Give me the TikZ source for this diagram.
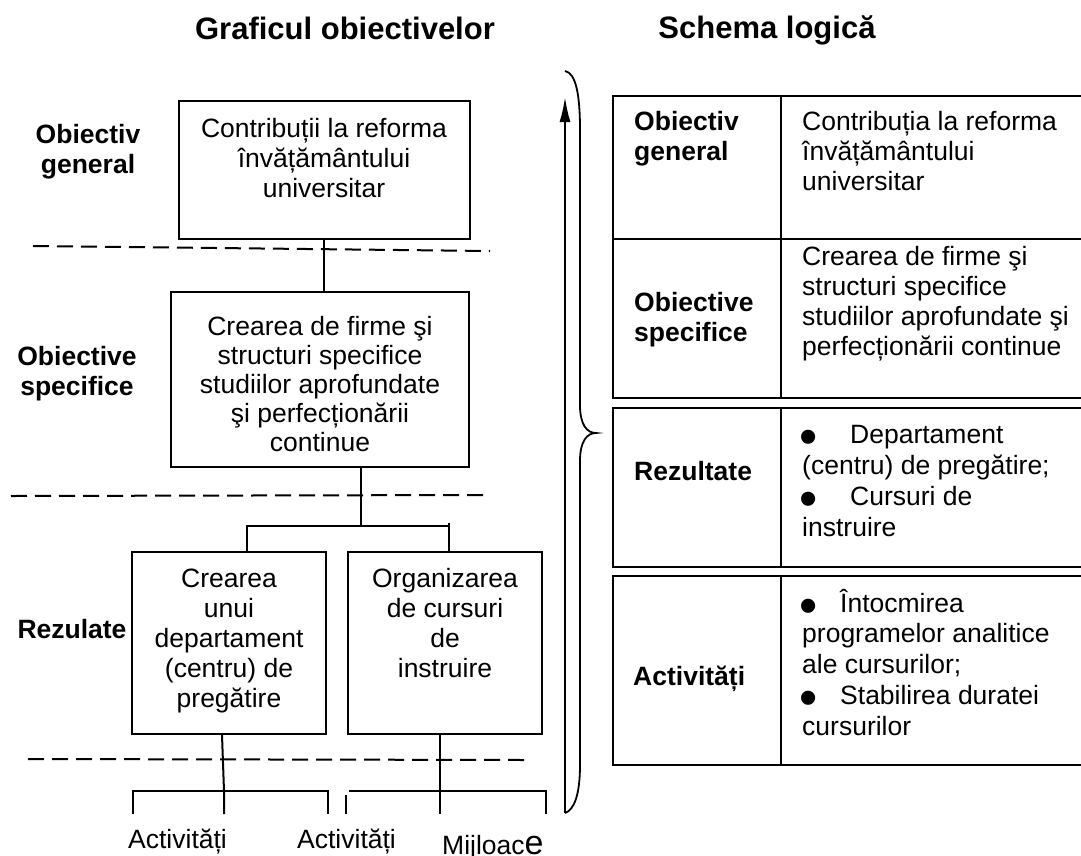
\documentclass[tikz,border=0pt]{standalone}
\usepackage{fontspec}
\setmainfont{Liberation Sans}
\usetikzlibrary{arrows.meta,calc}

\newcommand{\txtfont}{\fontsize{26.5}{30}\selectfont}
\newcommand{\lblfont}{\bfseries\fontsize{26.5}{30}\selectfont}
\newcommand{\ttlfont}{\bfseries\fontsize{31}{36}\selectfont}
% box text: height, width, first baseline, lines
\newcommand{\boxtext}[4]{\parbox[c][#1][t]{#2}{\centering\rule{0pt}{#3}#4}}
\newcommand{\bul}[1]{\makebox[#1][l]{\hspace*{-3pt}\smash{\raisebox{-11pt}{\fontsize{52}{52}\selectfont •}}}}

\begin{document}
\begin{tikzpicture}[
  x=1pt, y=-1pt,
  objbox/.style={draw, line width=2pt, inner sep=0pt, font=\txtfont},
  lvl/.style={anchor=base, inner sep=0pt, font=\lblfont},
  ttl/.style={anchor=base, inner sep=0pt, font=\ttlfont},
  cell/.style={anchor=base west, inner sep=0pt, font=\txtfont},
  cellhead/.style={anchor=base west, inner sep=0pt, font=\lblfont},
  link/.style={line width=2pt},
  sep/.style={line width=2pt, dash pattern=on 16pt off 8pt},
  grid/.style={line width=2.4pt}
]
  \fill[white] (0,0) rectangle (1081,855);
  \path[use as bounding box] (0,0) rectangle (1081,855);
  \clip (0,0) rectangle (1081,855);

  % titles
  \node[ttl] (tGraf) at (345,39) {Graficul obiectivelor};
  \node[ttl] (tSchema) at (767,38) {Schema logică};

  % left: objectives tree
  \node[lvl] (lGen) at (88,143) {\parbox[t]{160pt}{\centering Obiectiv\\general}};
  \node[lvl] (lSpec) at (77,365) {\parbox[t]{160pt}{\centering Obiective\\specifice}};
  \node[lvl] (lRez) at (72,638) {Rezulate};

  \node[objbox] (b1) at (324,170)
    {\boxtext{138pt}{291pt}{36pt}{Contribuții la reforma\\învățământului\\universitar}};
  \node[objbox, font=\fontsize{26.5}{29}\selectfont] (b2) at (320,379.5)
    {\boxtext{175pt}{298pt}{43pt}{Crearea de firme şi\\structuri specifice\\studiilor aprofundate\\şi perfecționării\\continue}};
  \node[objbox] (b3) at (229,643)
    {\boxtext{182pt}{194pt}{35pt}{Crearea\\unui\\departament\\(centru) de\\pregătire}};
  \node[objbox] (b4) at (445,643)
    {\boxtext{182pt}{194pt}{35pt}{Organizarea\\de cursuri\\de\\instruire}};

  % level separators
  \draw[sep] (33,246) -- (490,251);
  \draw[sep] (11,496) -- (485,495);
  \draw[sep] (28,759) -- (527,760);

  % links
  \coordinate (fork) at (361,526);
  \coordinate (forkL) at (247,526);
  \coordinate (forkR) at (449,526);
  \draw[link] (b1.south) -- (b1.south |- b2.north);
  \draw[link] (b2.south -| fork) -- (fork);
  \draw[link] (b3.north -| forkL) -- (forkL) -- (forkR) -- (b4.north -| forkR);
  \draw[link] (forkR) -- ++(0,-3);

  \coordinate (actA) at (224,791);
  \coordinate (lbW) at (133,791);
  \coordinate (lbE) at (328,791);
  \draw[link] ($(b3.south)+(-7,0)$) -- (actA) -- ++(0,23);
  \draw[link] ($(lbW)+(0,23)$) -- (lbW) -- (lbE) -- ++(0,23);

  \coordinate (actB) at (440,791);
  \coordinate (rbW) at (349,791);
  \coordinate (rbE) at (546,791);
  \draw[link] (b4.south -| actB) -- (actB) -- ++(0,23);
  \draw[link] (rbW) -- (rbE) -- ++(0,23);
  \draw[link] ($(rbW)+(-3,4)$) -- ++(0,19);

  \node[cell] (act1) at (128,848) {Activități};
  \node[cell] (act2) at (297,848) {Activități};
  \node[cell] (mij) at (442,854) {Mijloac{\fontsize{34}{34}\selectfont e}};

  % brace and arrow
  \coordinate (arrB) at (565,813);
  \coordinate (arrT) at (565,97);
  \draw[line width=2pt, -{Latex[length=25pt,width=11pt]}] (arrB) -- (arrT);
  \draw[line width=1.8pt] (565,71) .. controls (576,73) and (580,95) .. (580,130)
    -- (580,405) .. controls (580,425) and (587,433) .. (596,433)
    .. controls (587,433) and (580,441) .. (580,461)
    -- (580,765) .. controls (580,795) and (574,810) .. (arrB);

  % logical framework table
  \foreach \rtop/\rbot in {96/398,408/567,576/765}{
    \draw[grid] (613,\rtop) rectangle (1090,\rbot);
    \draw[grid] (781,\rtop) -- (781,\rbot);
  }
  \draw[grid] (613,239) -- (1090,239);

  \node[cellhead] (hGen) at (634,130) {\parbox[t]{140pt}{\raggedright Obiectiv\\general}};
  \node[cell] (cGen) at (802,130) {\parbox[t]{275pt}{\raggedright Contribuția la reforma\\învățământului\\universitar}};

  \node[cellhead] (hSpec) at (634,311) {\parbox[t]{140pt}{\raggedright Obiective\\specifice}};
  \node[cell] (cSpec) at (802,265) {\parbox[t]{275pt}{\raggedright Crearea de firme şi\\structuri specifice\\studiilor aprofundate şi\\perfecționării continue}};

  \node[cellhead] (hRez) at (634,480) {Rezultate};
  \node[cell, font=\fontsize{26.5}{31.3}\selectfont] (cRez) at (802,443)
    {\parbox[t]{275pt}{\raggedright \bul{48pt}Departament\\(centru) de pregătire;\\\bul{48pt}Cursuri de\\instruire}};

  \node[cellhead] (hAct) at (633,685) {Activități};
  \node[cell, font=\fontsize{26.5}{30.8}\selectfont] (cAct) at (802,612)
    {\parbox[t]{275pt}{\raggedright \bul{38pt}Întocmirea\\programelor analitice\\ale cursurilor;\\\bul{38pt}Stabilirea duratei\\cursurilor}};
\end{tikzpicture}
\end{document}
